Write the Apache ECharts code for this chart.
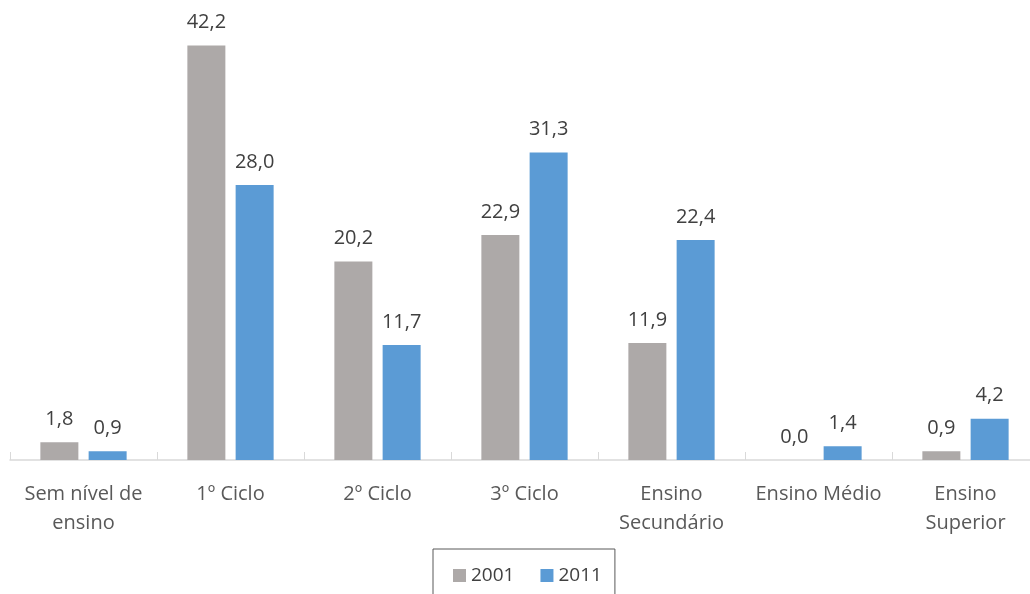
<!DOCTYPE html>
<html><head><meta charset="utf-8">
<script src="https://cdn.jsdelivr.net/npm/echarts@6/dist/echarts.min.js"></script>
<style>html,body{margin:0;padding:0;background:#fff;overflow:hidden;width:1030px;height:594px}#c{width:1040px;height:594px}</style>
</head><body><div id="c"></div>
<script>
var categories = ["Sem nível de\nensino", "1º Ciclo", "2º Ciclo", "3º Ciclo", "Ensino\nSecundário", "Ensino Médio", "Ensino\nSuperior"];
var seriesNames = ["2001", "2011"];
var values2001 = [1.8, 42.2, 20.2, 22.9, 11.9, 0.0, 0.9];
var values2011 = [0.9, 28.0, 11.7, 31.3, 22.4, 1.4, 4.2];
var colors = ["#ADA9A8", "#5B9BD5"];

var font = "'Open Sans', sans-serif";
var chart = echarts.init(document.getElementById('c'));
function lbl() {
  return { show: true, position: 'top', distance: 13, color: '#404040', fontFamily: font, fontSize: 20,
    formatter: function (p) { return p.value.toFixed(1).replace('.', ','); } };
}
chart.setOption({
  animation: false,
  color: colors,
  grid: { left: 10, width: 1029, top: 18, bottom: 134, containLabel: false },
  legend: {
    data: seriesNames, top: 549, left: 433,
    itemWidth: 13, itemHeight: 13, itemGap: 26,
    textStyle: { color: '#404040', fontFamily: font, fontSize: 19 },
    borderColor: '#595959', borderWidth: 1, padding: [17, 13, 30, 20], icon: 'rect'
  },
  xAxis: {
    type: 'category', data: categories,
    axisLine: { lineStyle: { color: '#D9D9D9', width: 1.5 } },
    axisTick: { show: true, inside: true, length: 8, lineStyle: { color: '#D9D9D9' } },
    axisLabel: { color: '#595959', fontFamily: font, fontSize: 20, lineHeight: 29, margin: 20, interval: 0 }
  },
  yAxis: { type: 'value', min: 0, max: 45, show: false, splitLine: { show: false } },
  series: [
    { name: seriesNames[0], type: 'bar', data: values2001, barWidth: 38, barGap: '27%', label: lbl() },
    { name: seriesNames[1], type: 'bar', data: values2011, barWidth: 38, label: lbl() }
  ]
});
</script></body></html>
